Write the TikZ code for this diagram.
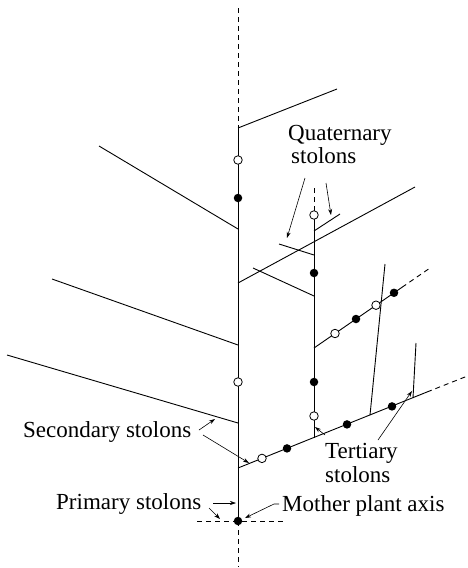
\documentclass[tikz,border=0pt]{standalone}
\usepackage{fontspec}
\setmainfont{Liberation Serif}
\usetikzlibrary{arrows.meta}
\begin{document}
\begin{tikzpicture}[x=1pt,y=-1pt,
  stem/.style={line width=0.9pt},
  dashstem/.style={line width=0.9pt, dash pattern=on 5pt off 4pt},
  opendot/.style={circle,draw,fill=white,line width=0.8pt,inner sep=0pt,minimum size=8.5pt},
  fulldot/.style={circle,fill=black,inner sep=0pt,minimum size=8.5pt},
  lab/.style={font=\fontsize{23}{25}\selectfont, anchor=base west, inner sep=0pt},
  ptr/.style={line width=0.6pt,-{Stealth[length=6pt,width=4pt]}}
]
\useasboundingbox (0,0) rectangle (468,568);

% main axis coordinates
\coordinate (a0) at (238,8);
\coordinate (a1) at (238,128);
\coordinate (a2) at (238,229);
\coordinate (a3) at (238,283);
\coordinate (a4) at (238,345);
\coordinate (a5) at (238,423);
\coordinate (s0) at (238,468);
\coordinate (a9) at (238,567);
\coordinate (hl) at (197,521);
\coordinate (hr) at (283,521);

% branches of main axis
\coordinate (b1) at (337,89);
\coordinate (b3) at (415,187);
\coordinate (l1) at (99,146);
\coordinate (l2) at (52,279);
\coordinate (l3) at (7,355);

% secondary branch
\coordinate (sd) at (427,392);
\coordinate (se) at (470,375);

% second vertical
\coordinate (v0) at (314,437.6);
\coordinate (v1) at (314,219);
\coordinate (v2) at (314,211);
\coordinate (v3) at (314,187);
\coordinate (vq) at (314,231);
\coordinate (vq2) at (340,214);
\coordinate (vl) at (314,255);
\coordinate (vl2) at (279,244);
\coordinate (vm) at (314,296);
\coordinate (vm2) at (253,268);
\coordinate (c0) at (314,348);
\coordinate (cd) at (402,287.3);
\coordinate (ce) at (430,268);

% tertiary
\coordinate (t1a) at (370,415.2);
\coordinate (t1b) at (385,264);
\coordinate (t2a) at (413,398);
\coordinate (t2b) at (416,343);

% lines
\draw[dashstem] (a0) -- (a1);
\draw[stem] (a1) -- (238,521);
\draw[dashstem] (238,521) -- (a9);
\draw[dashstem] (hl) -- (hr);
\draw[stem] (a1) -- (b1);
\draw[stem] (a3) -- (b3);
\draw[stem] (a2) -- (l1);
\draw[stem] (a4) -- (l2);
\draw[stem] (a5) -- (l3);
\draw[stem] (s0) -- (sd);
\draw[dashstem] (sd) -- (se);
\draw[stem] (v0) -- (v1);
\draw[dashstem] (v2) -- (v3);
\draw[stem] (vq) -- (vq2);
\draw[stem] (vl) -- (vl2);
\draw[stem] (vm) -- (vm2);
\draw[stem] (c0) -- (cd);
\draw[dashstem] (cd) -- (ce);
\draw[stem] (t1a) -- (t1b);
\draw[stem] (t2a) -- (t2b);

% dots
\node[opendot] (d1) at (238,160) {};
\node[fulldot] (d2) at (238,198) {};
\node[opendot] (d3) at (238,382) {};
\node[fulldot] (mother) at (238,521) {};
\node[opendot] (d5) at (262,458.4) {};
\node[fulldot] (d6) at (287,448.4) {};
\node[fulldot] (d7) at (347,424.4) {};
\node[fulldot] (d8) at (392,406.4) {};
\node[opendot] (d9) at (314,416) {};
\node[fulldot] (d10) at (314,382) {};
\node[fulldot] (d11) at (314,273) {};
\node[opendot] (d12) at (314,215) {};
\node[opendot] (d13) at (335,333.5) {};
\node[fulldot] (d14) at (356,319) {};
\node[opendot] (d15) at (376,305.2) {};
\node[fulldot] (d16) at (394,292.8) {};

% labels
\node[lab] (quat) at (288,140) {Quaternary};
\node[lab] (quatb) at (291,163) {stolons};
\node[lab] (sec) at (23,437) {Secondary stolons};
\node[lab] (prim) at (56,509) {Primary stolons};
\node[lab] (moth) at (282,511) {Mother plant axis};
\node[lab] (tert) at (325,458) {Tertiary};
\node[lab] (tertb) at (325,482) {stolons};

% pointers
\draw[ptr] (305,178) -- (287,238);
\draw[ptr] (326,183) -- (331,215);
\draw[ptr] (199,430) -- (215,419);
\draw[ptr] (203,435) -- (249,463);
\draw[ptr] (213,503) -- (236,503);
\draw[ptr] (209,508) -- (220,519);
\draw[ptr] (279,504) -- (274,504) -- (245,518);
\draw[ptr] (325,435) -- (315,427);
\draw[ptr] (378,440) -- (412,391);
\end{tikzpicture}
\end{document}
